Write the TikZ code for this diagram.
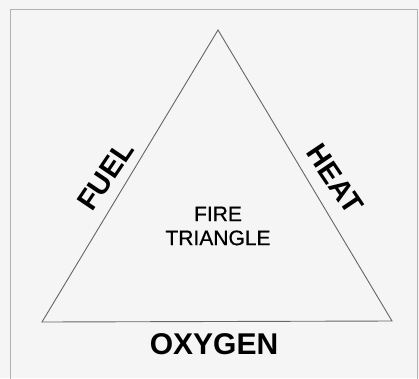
\documentclass[tikz,border=0pt]{standalone}
\usepackage{fontspec}
\setmainfont{Liberation Sans}
\begin{document}
\begin{tikzpicture}[x=1pt,y=-1pt,
  edge/.style={draw=black!60, line width=0.9pt},
  side/.style={font=\bfseries\fontsize{29}{29}\selectfont, inner sep=0pt},
  centre/.style={font=\addfontfeature{FakeBold=0.6}\fontsize{21}{24}\selectfont, align=center, inner sep=0pt}]
\useasboundingbox (0,0) rectangle (419,378);
\fill[black!4] (0,0) rectangle (419,378);
\begin{scope}
\clip (0,0) rectangle (419,378);
\draw[black!30, line width=1pt] (10,9) rectangle (417,390);
\end{scope}
\coordinate (A) at (218,30);
\coordinate (B) at (42,322);
\coordinate (C) at (392,321);
\draw[edge, line join=miter] (A) -- (B) -- (C) -- cycle;
\node[side, rotate=56] (fuel) at (106,176) {FUEL};
\node[side, rotate=-56] (heat) at (335,179) {HEAT};
\node[side, font=\bfseries\fontsize{30}{30}\selectfont] (oxy) at (214,344) {OXYGEN};
\node[centre] (ft) at (218,226) {FIRE\\TRIANGLE};
\end{tikzpicture}
\end{document}
